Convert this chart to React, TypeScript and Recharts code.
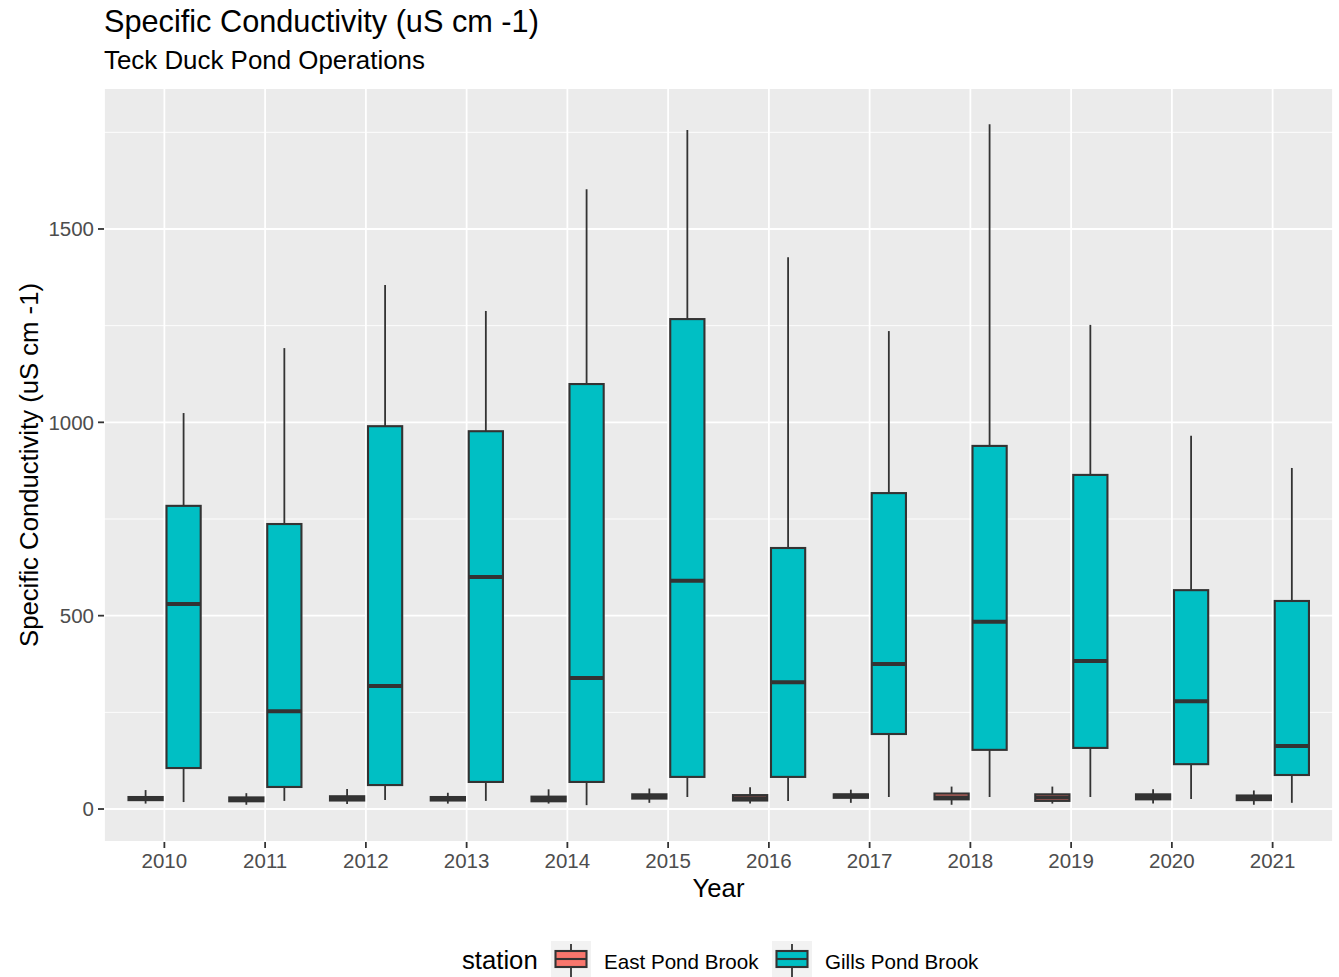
import React from 'react';
import { ComposedChart, Bar, XAxis, YAxis, CartesianGrid } from 'recharts';

const years = ['2010', '2011', '2012', '2013', '2014', '2015', '2016', '2017', '2018', '2019', '2020', '2021'];

const gillsMin = [18, 21, 23, 21, 10, 31, 21, 31, 31, 31, 26, 16];
const gillsQ1 = [106, 57, 62, 70, 70, 83, 83, 194, 153, 158, 116, 88];
const gillsMedian = [530, 253, 318, 600, 339, 590, 328, 375, 484, 383, 279, 163];
const gillsQ3 = [784, 737, 990, 977, 1099, 1267, 675, 817, 939, 864, 566, 538];
const gillsMax = [1024, 1192, 1355, 1288, 1603, 1756, 1427, 1236, 1771, 1252, 965, 882];

const eastMin = [14, 11, 13, 14, 14, 16, 14, 16, 11, 14, 14, 11];
const eastQ1 = [23, 20, 22, 22, 20, 27, 22, 29, 25, 21, 25, 23];
const eastMedian = [27, 24, 28, 26, 26, 32, 28, 34, 30, 30, 31, 29];
const eastQ3 = [31, 30, 33, 31, 32, 38, 36, 38, 40, 38, 38, 35];
const eastMax = [49, 41, 52, 42, 51, 53, 56, 50, 58, 58, 51, 48];

const yTicks = [0, 500, 1000, 1500];
const yMinorTicks = [250, 750, 1250, 1750];
const yDomain: [number, number] = [-85.3, 1864.6];

const stations = ['East Pond Brook', 'Gills Pond Brook'];
const stationColors = ['#F8766D', '#00BFC4'];

const data = years.map((year, i) => ({
  year,
  eMin: eastMin[i],
  eQ1: eastQ1[i],
  eMed: eastMedian[i],
  eQ3: eastQ3[i],
  eMax: eastMax[i],
  gMin: gillsMin[i],
  gQ1: gillsQ1[i],
  gMed: gillsMedian[i],
  gQ3: gillsQ3[i],
  gMax: gillsMax[i],
}));

const FONT = '"Liberation Sans", Arial, Helvetica, sans-serif';
const LINE = '#333333';
const LW = 1.8;
const BOX_LW = 2.1;
const MED_LW = 4;

const makeBox = (k: 'e' | 'g', color: string) => (props: any) => {
  const { x, y, width, height, payload } = props;
  if (!payload) return null;
  const min = payload[k + 'Min'];
  const q1 = payload[k + 'Q1'];
  const med = payload[k + 'Med'];
  const q3 = payload[k + 'Q3'];
  const max = payload[k + 'Max'];
  const top = Math.min(y, y + height);
  const bottom = Math.max(y, y + height);
  const span = max - min;
  const toPx = (v: number) => bottom - ((v - min) / span) * (bottom - top);
  const cx = x + width / 2;
  const bx = x + width * 0.05;
  const bw = width * 0.9;
  return (
    <g>
      <line x1={cx} x2={cx} y1={toPx(max)} y2={toPx(q3)} stroke={LINE} strokeWidth={LW} />
      <line x1={cx} x2={cx} y1={toPx(q1)} y2={toPx(min)} stroke={LINE} strokeWidth={LW} />
      <rect x={bx} y={toPx(q3)} width={bw} height={toPx(q1) - toPx(q3)} fill={color} stroke={LINE} strokeWidth={BOX_LW} />
      <line x1={bx} x2={bx + bw} y1={toPx(med)} y2={toPx(med)} stroke={LINE} strokeWidth={MED_LW} />
    </g>
  );
};

const LegendKey = ({ x, color }: { x: number; color: string }) => (
  <g>
    <rect x={x} y={941} width={40} height={40} fill="#F2F2F2" />
    <line x1={x + 20} x2={x + 20} y1={944} y2={978} stroke={LINE} strokeWidth={LW} />
    <rect x={x + 4.5} y={951} width={31} height={16} fill={color} stroke={LINE} strokeWidth={BOX_LW} />
    <line x1={x + 4.5} x2={x + 35.5} y1={959} y2={959} stroke={LINE} strokeWidth={BOX_LW} />
  </g>
);

export default function App() {
  const tickStyle = { fill: '#4D4D4D', fontSize: 20.5, fontFamily: FONT };
  return (
    <div style={{ position: 'absolute', left: 0, top: 0, width: 1339, height: 977, background: '#fff', overflow: 'hidden' }}>
      <ComposedChart
        width={1339}
        height={977}
        data={data}
        margin={{ top: 88, right: 6, bottom: 105, left: 0 }}
        barCategoryGap="12.5%"
        barGap={0}
      >
        <CartesianGrid
          yAxisId="minor"
          fill="#EBEBEB"
          fillOpacity={1}
          stroke="#FFFFFF"
          strokeWidth={0.9}
          vertical={false}
        />
        <CartesianGrid yAxisId="major" stroke="#FFFFFF" strokeWidth={1.8} fill="none" />
        <XAxis
          dataKey="year"
          type="category"
          height={30}
          padding={{ left: 10, right: 10 }}
          axisLine={false}
          tickLine={{ stroke: LINE, strokeWidth: LW }}
          tickSize={6}
          tickMargin={5}
          tick={tickStyle}
          interval={0}
        />
        <YAxis
          yAxisId="major"
          type="number"
          domain={yDomain}
          ticks={yTicks}
          allowDataOverflow
          width={104}
          axisLine={false}
          tickLine={{ stroke: LINE, strokeWidth: LW }}
          tickSize={6}
          tickMargin={4}
          tick={tickStyle}
          interval={0}
        />
        <YAxis yAxisId="minor" type="number" domain={yDomain} ticks={yMinorTicks} allowDataOverflow hide />
        <Bar
          yAxisId="major"
          dataKey={(d: any) => [d.eMin, d.eMax]}
          name={stations[0]}
          fill={stationColors[0]}
          shape={makeBox('e', stationColors[0])}
          isAnimationActive={false}
        />
        <Bar
          yAxisId="major"
          dataKey={(d: any) => [d.gMin, d.gMax]}
          name={stations[1]}
          fill={stationColors[1]}
          shape={makeBox('g', stationColors[1])}
          isAnimationActive={false}
        />
      </ComposedChart>
      <svg
        width={1339}
        height={977}
        style={{ position: 'absolute', left: 0, top: 0, pointerEvents: 'none' }}
        fontFamily={FONT}
      >
        <text x={104} y={32} fontSize={30.7} fill="#000">Specific Conductivity (uS cm -1)</text>
        <text x={104} y={69} fontSize={25.9} fill="#000">Teck Duck Pond Operations</text>
        <text x={718.5} y={897} fontSize={25.7} fill="#000" textAnchor="middle">Year</text>
        <text
          x={37.5}
          y={465}
          fontSize={25.7}
          fill="#000"
          textAnchor="middle"
          transform="rotate(-90 37.5 465)"
        >
          Specific Conductivity (uS cm -1)
        </text>
        <text x={462} y={969} fontSize={25.7} fill="#000">station</text>
        <LegendKey x={551} color={stationColors[0]} />
        <text x={604} y={969} fontSize={20.6} fill="#000">{stations[0]}</text>
        <LegendKey x={772} color={stationColors[1]} />
        <text x={825} y={969} fontSize={20.6} fill="#000">{stations[1]}</text>
      </svg>
    </div>
  );
}
